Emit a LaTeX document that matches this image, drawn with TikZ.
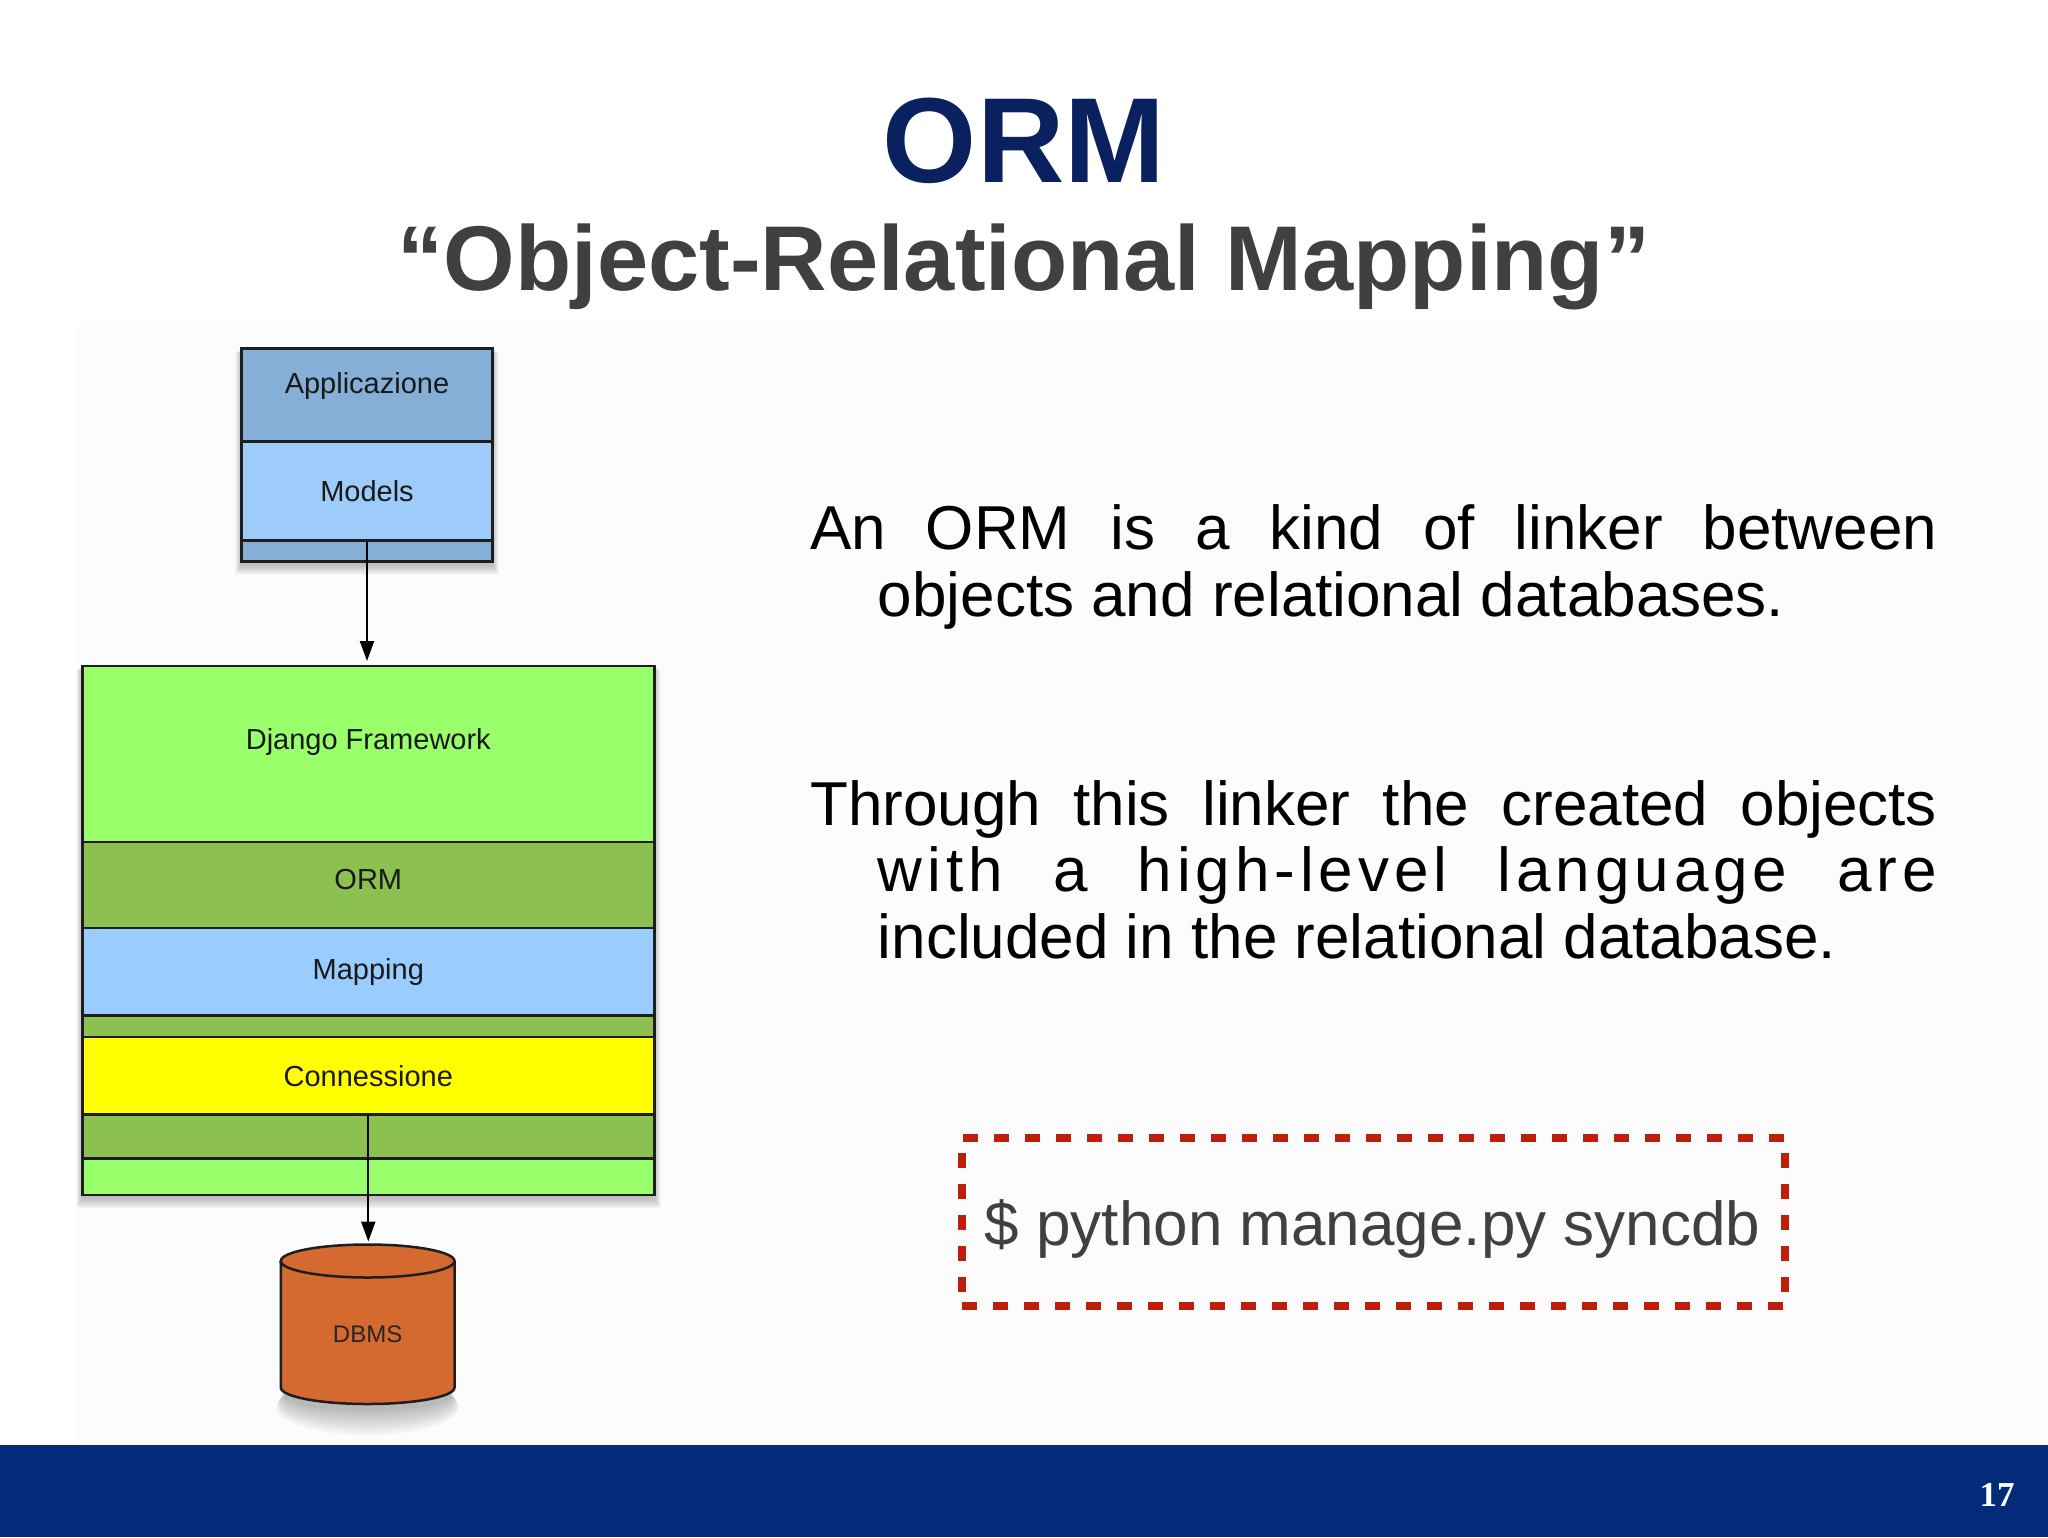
\documentclass[tikz,border=0pt]{standalone}
\usepackage{fontspec}
\setmainfont{Liberation Sans}
\newfontfamily\pagenumfont{Liberation Serif}
\newfontfamily\spacedfont[LetterSpace=8.0]{Liberation Sans}
\usetikzlibrary{arrows.meta}
\definecolor{titleblue}{RGB}{10,33,96}
\definecolor{subgray}{RGB}{64,64,64}
\definecolor{appdark}{RGB}{133,175,214}
\definecolor{applight}{RGB}{157,204,250}
\definecolor{djangogreen}{RGB}{153,255,107}
\definecolor{ormgreen}{RGB}{140,192,80}
\definecolor{mapblue}{RGB}{153,204,255}
\definecolor{connyellow}{RGB}{255,255,0}
\definecolor{dbmsorange}{RGB}{212,106,48}
\definecolor{linecol}{RGB}{30,30,30}
\definecolor{dashred}{RGB}{190,30,12}
\definecolor{barblue}{RGB}{3,43,122}
\definecolor{bgpanel}{RGB}{252,252,252}
\newcommand\boxshadow[4]{\foreach \k in {1,...,8}{\fill[black,opacity=0.03] ({#1-\k*0.8},{#2+\k*0.5}) rectangle ({#3+\k*0.8},{#4+3+\k*1.3});}}
\tikzset{
  layer/.style={draw=linecol, line width=2.5pt, inner sep=0pt, outer sep=0pt, anchor=north,
    font=\fontsize{29}{29}\selectfont, text=black!90},
  appbox/.style={layer, minimum width=250.8pt},
  greenbox/.style={layer, minimum width=572pt},
  lbl/.style={font=\fontsize{29}{29}\selectfont, text=black!90, inner sep=0pt},
  bodytext/.style={anchor=base west, inner sep=0pt, font=\fontsize{62}{66}\selectfont, text=black},
  arr/.style={draw=black, line width=2.2pt, -{Triangle[width=14pt,length=20pt]}},
}
\begin{document}
\begin{tikzpicture}[x=1pt,y=-1pt]
\useasboundingbox (0,0) rectangle (2048,1537);
\fill[white] (0,0) rectangle (2048,1537);
\fill[bgpanel] (78,326) rectangle (2048,1445);
\fill[barblue] (0,1445) rectangle (2048,1537);

% titles
\node[anchor=base, inner sep=0pt, text=titleblue, font=\fontsize{121}{121}\selectfont\bfseries] (title) at (1024,182) {ORM};
\node[anchor=base, inner sep=0pt, text=subgray, font=\fontsize{92}{92}\selectfont\bfseries] (subtitle) at (1024,290) {“Object-Relational Mapping”};

% shadows
\boxshadow{241.6}{348.7}{492.4}{561.6}
\boxshadow{82.3}{666}{654.4}{1195}
\foreach \k in {1,...,9}{\fill[black,opacity=0.03] (367.6,{1393+\k*1.6}) ellipse [x radius={84+\k*0.8}, y radius={15+\k*1.4}];}

% application box
\node[appbox, fill=appdark, minimum height=92.8pt] (app) at (367,348.7) {};
\node[appbox, fill=applight, minimum height=99.2pt] (models) at (367,441.5) {Models};
\node[appbox, fill=appdark, minimum height=20.9pt] (appstrip) at (367,540.7) {};
\node[lbl] (apptext) at (367,386) {Applicazione};

% framework stack
\node[greenbox, fill=djangogreen, minimum height=176pt] (django) at (368.3,666) {};
\node[lbl] (djangotext) at (368.3,742) {Django Framework};
\node[greenbox, fill=ormgreen, minimum height=86pt] (orm) at (368.3,842) {};
\node[lbl] (ormtext) at (368.3,880) {ORM};
\node[greenbox, fill=mapblue, minimum height=87.5pt] (mapping) at (368.3,928) {Mapping};
\node[greenbox, fill=ormgreen, minimum height=21.5pt] (thin) at (368.3,1015.5) {};
\node[greenbox, fill=connyellow, minimum height=77.5pt] (conn) at (368.3,1037) {Connessione};
\node[greenbox, fill=ormgreen, minimum height=44pt] (darkband) at (368.3,1114.5) {};
\node[greenbox, fill=djangogreen, minimum height=36.5pt] (lightband) at (368.3,1158.5) {};

% DBMS cylinder
\filldraw[fill=dbmsorange, draw=linecol, line width=2.5pt]
  (280.8,1261) -- (280.8,1387.5) arc[start angle=180, end angle=360, x radius=86.85pt, y radius=16.5pt]
  -- (454.5,1261) arc[start angle=0, end angle=180, x radius=86.85pt, y radius=16.5pt] -- cycle;
\draw[draw=linecol, line width=2.5pt] (280.8,1261) arc[start angle=180, end angle=360, x radius=86.85pt, y radius=16.5pt];
\coordinate (dbmstop) at (367.6,1244.5);
\node[lbl, font=\fontsize{24}{24}\selectfont, text=black!85] (dbms) at (367.6,1334) {DBMS};

% connectors
\draw[arr, shorten >=5pt] (models.south) -- (models.south |- django.north);
\draw[arr, shorten >=3pt] (conn.south) -- (conn.south |- dbmstop);

% right text
\node[bodytext] (p1a) at (810,549.5) {\makebox[1127pt][s]{An ORM is a kind of linker between}};
\node[bodytext] (p1b) at (877.7,616) {objects and relational databases.};
\node[bodytext] (p2a) at (810,825) {\makebox[1127pt][s]{Through this linker the created objects}};
\node[bodytext, font=\spacedfont\fontsize{62}{66}\selectfont] (p2b) at (877.7,891.5) {\makebox[1059.3pt][s]{with a high-level language are}};
\node[bodytext] (p2c) at (877.7,958) {included in the relational database.};

% command box
\node[draw=dashred, line width=7.5pt, dash pattern=on 15pt off 16pt, minimum width=823pt, minimum height=168pt, inner sep=0pt] (cmdbox) at (1373.5,1222) {};
\node[bodytext, anchor=base, text=subgray] (cmd) at (1372.5,1245) {\$ python manage.py syncdb};

% page number
\node[anchor=base, inner sep=0pt, text=white, font=\pagenumfont\bfseries\fontsize{35}{35}\selectfont] (pagenum) at (1997,1506) {17};
\end{tikzpicture}
\end{document}
